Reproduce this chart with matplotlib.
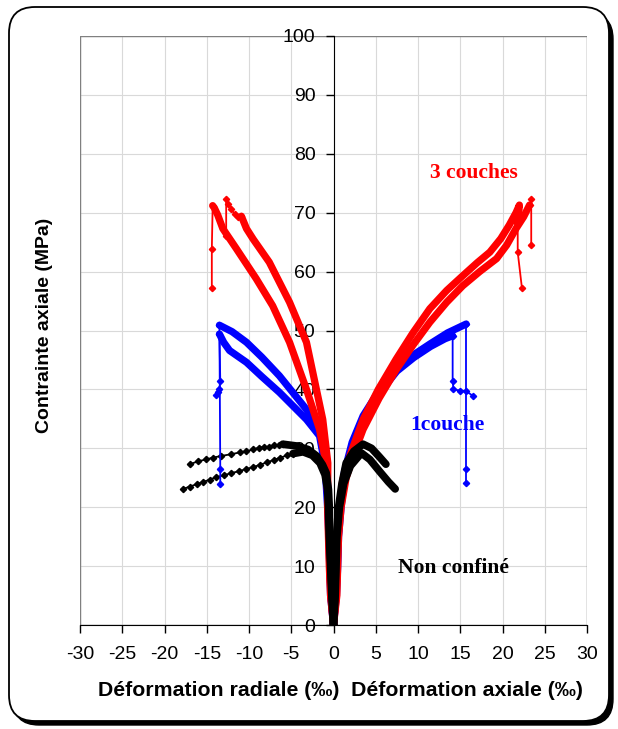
import matplotlib
matplotlib.use('Agg')
from matplotlib import pyplot as plt
from matplotlib.patches import FancyBboxPatch, Rectangle

# ---- data ----
# red : 3 couches
red_rad_a_x = [0, -0.3, -0.45, -0.5, -0.6, -0.9, -1.65, -3.2, -5.2, -7.2, -9.15, -11.5, -13.1, -13.7, -14.1, -14.3]
red_rad_a_y = [0, 5, 10, 15, 20, 27.5, 33.2, 40, 48, 54.2, 58.8, 63.9, 67.3, 69.6, 70.8, 71.2]
red_rad_a_tail_x = [-14.3, -14.4, -14.4]
red_rad_a_tail_y = [71.2, 63.8, 57.2]

red_rad_b_x = [0, -0.35, -0.5, -0.6, -0.7, -0.67, -1.27, -2.45, -3.2, -5.2, -7.6, -9.5, -10.3, -10.9]
red_rad_b_y = [0, 5, 10, 15, 20, 27.5, 34.9, 42.9, 48, 54.8, 61.6, 65.5, 67.3, 69.4]
red_rad_b_tail_x = [-10.9, -11.3, -11.7, -12.1, -12.5, -12.7, -12.7]
red_rad_b_tail_y = [69.4, 69.3, 69.7, 70.7, 71.5, 72.3, 66.1]

red_ax_a_x = [0, 0.3, 0.4, 0.5, 0.7, 1.1, 2.0, 3.5, 5.3, 7.4, 9.4, 11.4, 13.4, 15.3, 17.0, 18.5, 19.8, 20.8, 21.6, 22.0, 21.8]
red_ax_a_y = [0, 5, 10, 15, 20, 24.7, 29, 34.9, 40, 45.1, 49.6, 53.7, 56.8, 59.3, 61.5, 63.3, 65.6, 67.9, 70, 71.3, 68.0]
red_ax_a_tail_x = [21.8, 21.8, 22.3]
red_ax_a_tail_y = [68.0, 63.3, 57.2]

red_ax_b_x = [0, 0.4, 0.5, 0.6, 0.9, 1.5, 2.4, 3.5, 5.4, 7.4, 9.4, 11.4, 13.4, 15.3, 17.3, 19.3, 20.5, 21.6, 22.5, 23.2]
red_ax_b_y = [0, 5, 10, 15, 20, 25, 29, 33.2, 38.5, 43.3, 47.5, 51.4, 54.8, 57.6, 60, 62.2, 64.5, 67.3, 69.3, 71.3]
red_ax_b_tail_x = [23.2, 23.4, 23.4]
red_ax_b_tail_y = [71.3, 72.3, 64.6]

# blue : 1 couche
blue_rad_a_x = [0, -0.3, -0.4, -0.5, -0.6, -0.8, -1.27, -3.2, -6.4, -8.5, -10.3, -12.0, -13.5]
blue_rad_a_y = [0, 5, 10, 15, 20, 27, 32.1, 36.6, 42.3, 45.5, 48, 49.8, 50.9]
blue_rad_a_tail_x = [-13.5, -13.4, -13.4]
blue_rad_a_tail_y = [50.9, 26.5, 24.0]

blue_rad_b_x = [0, -0.35, -0.45, -0.55, -0.7, -1.0, -1.65, -3.2, -6.4, -8.5, -10.3, -12.3, -13.0, -13.5]
blue_rad_b_y = [0, 5, 10, 15, 20, 27, 32.1, 34.9, 39.5, 42.2, 44.6, 46.6, 48, 49.4]
blue_rad_b_tail_x = [-13.5, -13.4, -13.5, -13.7, -13.9]
blue_rad_b_tail_y = [49.4, 41.4, 40.0, 39.6, 39.0]

blue_ax_a_x = [0, 0.3, 0.45, 0.55, 0.8, 1.3, 2.2, 3.5, 5.4, 7.4, 9.4, 11.4, 13.5, 15.7]
blue_ax_a_y = [0, 5, 10, 15, 20, 26, 31, 35.5, 39.8, 43.4, 45.8, 47.7, 49.6, 51.1]
blue_ax_a_tail_x = [15.7, 15.7, 15.7]
blue_ax_a_tail_y = [51.1, 26.5, 24.1]

blue_ax_b_x = [0, 0.35, 0.5, 0.6, 0.9, 1.4, 2.3, 3.6, 5.5, 7.5, 9.5, 11.5, 13.2, 14.1]
blue_ax_b_y = [0, 5, 10, 15, 20, 26, 31, 35.3, 39.5, 43.1, 45.4, 47.3, 48.6, 49.1]
blue_ax_b_tail_x = [14.1, 14.1, 14.2, 15.0, 15.7, 16.5]
blue_ax_b_tail_y = [49.1, 41.4, 40.0, 39.8, 39.7, 38.9]

# black : non confiné
black_rad_a_x = [0, -0.15, -0.3, -0.45, -0.5, -0.6, -0.86, -1.3, -2.0, -3.0, -4.4, -6.0]
black_rad_a_y = [0, 5, 10, 15, 20, 23, 25.8, 27.2, 28.7, 29.8, 30.4, 30.7]
black_rad_a_tail_x = [-6.0, -6.4, -7.0, -7.6, -8.2, -8.8, -9.5, -10.3, -11.1, -12.1, -13.3, -14.3, -15.1, -16.0, -17.0]
black_rad_a_tail_y = [30.7, 30.6, 30.5, 30.3, 30.2, 30.1, 29.8, 29.5, 29.3, 29.0, 28.7, 28.4, 28.1, 27.8, 27.3]

black_rad_b_x = [0, -0.2, -0.35, -0.5, -0.6, -0.7, -1.0, -1.6, -2.5, -3.6, -4.8]
black_rad_b_y = [0, 5, 10, 15, 20, 23, 25.5, 27.5, 28.8, 29.4, 29.1]
black_rad_b_tail_x = [-4.8, -5.5, -6.3, -7.1, -7.9, -8.7, -9.5, -10.3, -11.2, -12.1, -13.0, -13.9, -14.6, -15.4, -16.2, -17.0, -17.8]
black_rad_b_tail_y = [29.1, 28.8, 28.4, 28.0, 27.6, 27.2, 26.8, 26.5, 26.1, 25.8, 25.4, 25.1, 24.7, 24.3, 23.9, 23.5, 23.1]

black_ax_a_x = [0, 0.15, 0.25, 0.3, 0.6, 1.0, 1.5, 2.4, 3.5, 4.5, 5.4, 6.2]
black_ax_a_y = [0, 5, 10, 14, 20, 24, 27.5, 29.5, 30.7, 30.0, 28.6, 27.3]

black_ax_b_x = [0, 0.2, 0.3, 0.4, 0.7, 1.2, 2.0, 3.3, 4.3, 5.5, 6.5, 7.3]
black_ax_b_y = [0, 5, 10, 15, 20, 24, 27, 29.2, 28.1, 26.0, 24.3, 23.1]

xticks = list(range(-30, 31, 5))
yticks = list(range(0, 101, 10))

# ---- figure ----
plt.rcParams['font.family'] = ['Liberation Sans', 'DejaVu Sans']
fig = plt.figure(figsize=(6.18, 7.29), dpi=100)

# rounded frame with shadow (figure pixels)
shadow = FancyBboxPatch((13, 4), 600, 712, boxstyle='round,pad=0,rounding_size=26',
                        transform=None, facecolor='black', edgecolor='black', zorder=0)
frame = FancyBboxPatch((9, 8), 600, 714, boxstyle='round,pad=0,rounding_size=26',
                       transform=None, facecolor='white', edgecolor='black', lw=1.3, zorder=1)
fig.patches.extend([shadow, frame])

ax = fig.add_axes([80/618, 1-625/729, 507/618, 589/729])
ax.set_zorder(2)
ax.patch.set_alpha(0)

thick = 5.2
thin = 1.3
ms = 3.2

def draw(x, y, c, lw=thick):
    ax.plot(x, y, color=c, lw=lw, solid_capstyle='round', solid_joinstyle='round', zorder=3)

def tail(x, y, c):
    ax.plot(x, y, color=c, lw=thin, marker='D', ms=ms, zorder=3)

# black tails first (under), then blue, then red, black on top near origin
tail(black_rad_a_tail_x, black_rad_a_tail_y, 'black')
tail(black_rad_b_tail_x, black_rad_b_tail_y, 'black')

tail(blue_rad_a_tail_x, blue_rad_a_tail_y, 'blue')
tail(blue_rad_b_tail_x, blue_rad_b_tail_y, 'blue')
tail(blue_ax_a_tail_x, blue_ax_a_tail_y, 'blue')
tail(blue_ax_b_tail_x, blue_ax_b_tail_y, 'blue')
draw(blue_rad_a_x, blue_rad_a_y, 'blue')
draw(blue_rad_b_x, blue_rad_b_y, 'blue')
draw(blue_ax_a_x, blue_ax_a_y, 'blue')
draw(blue_ax_b_x, blue_ax_b_y, 'blue')

tail(red_rad_a_tail_x, red_rad_a_tail_y, 'red')
tail(red_rad_b_tail_x, red_rad_b_tail_y, 'red')
tail(red_ax_a_tail_x, red_ax_a_tail_y, 'red')
tail(red_ax_b_tail_x, red_ax_b_tail_y, 'red')
draw(red_rad_a_x, red_rad_a_y, 'red')
draw(red_rad_b_x, red_rad_b_y, 'red')
draw(red_ax_a_x, red_ax_a_y, 'red')
draw(red_ax_b_x, red_ax_b_y, 'red')

draw(black_rad_a_x, black_rad_a_y, 'black', 5.5)
draw(black_rad_b_x, black_rad_b_y, 'black', 5.5)
draw(black_ax_a_x, black_ax_a_y, 'black', 5.5)
draw(black_ax_b_x, black_ax_b_y, 'black', 5.5)
ax.plot([0], [0], 'D', color='black', ms=3, zorder=4)

ax.set_xlim(-30, 30)
ax.set_ylim(0, 100)
ax.set_xticks(xticks)
ax.set_yticks(yticks)
ax.set_xticklabels([str(t) for t in xticks])
ax.set_yticklabels([str(t) for t in yticks])

# vertical grid every 5, horizontal every 10
for t in xticks:
    ax.axvline(t, color='#d9d9d9', lw=0.8, zorder=1)
for t in yticks:
    ax.axhline(t, color='#d9d9d9', lw=0.8, zorder=1)

ax.add_patch(Rectangle((0, 0), 1, 1, transform=ax.transAxes, fill=False,
                       edgecolor='#808080', lw=1, zorder=1.5))

ax.spines['left'].set_position(('data', 0))
ax.spines['top'].set_visible(False)
ax.spines['right'].set_visible(False)
ax.spines['left'].set_zorder(2.5)
ax.tick_params(axis='both', direction='out', length=6, width=1, labelsize=14)
ax.tick_params(axis='x', pad=9)
ax.tick_params(axis='y', pad=7)

serif = ['Liberation Serif', 'DejaVu Serif']
ax.text(16.6, 76.7, '3 couches', color='red', fontsize=15.5, fontweight='bold',
        family=serif, ha='center', va='center', zorder=5)
ax.text(13.5, 33.9, '1couche', color='blue', fontsize=15.5, fontweight='bold',
        family=serif, ha='center', va='center', zorder=5)
ax.text(14.2, 9.7, 'Non confiné', color='black', fontsize=15.5, fontweight='bold',
        family=serif, ha='center', va='center', zorder=5)

fig.text(45/618, 1-325/729, 'Contrainte axiale (MPa)', rotation=90, fontsize=14,
         fontweight='bold', ha='center', va='center')
fig.text(340/618, 1-690/729, 'Déformation radiale (‰)  Déformation axiale (‰)',
         fontsize=15.3, fontweight='bold', ha='center', va='center')

fig.savefig('out.png', dpi=100)
